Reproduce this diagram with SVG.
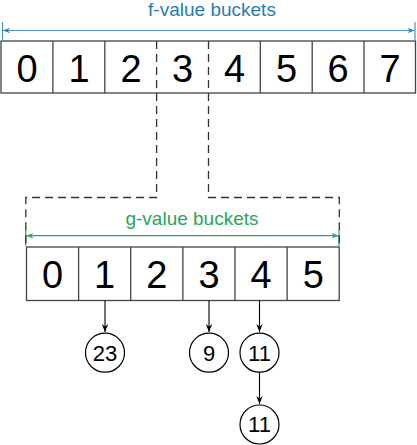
<svg xmlns="http://www.w3.org/2000/svg" width="417" height="445" viewBox="0 0 417 445">
<defs>
<marker id="ab" viewBox="0 0 10 10" refX="10" refY="5" markerWidth="7" markerHeight="7" markerUnits="userSpaceOnUse" orient="auto-start-reverse"><path d="M0,1 L10,5 L0,9 L3,5 Z" fill="#2f7fb6"/></marker>
<marker id="ag" viewBox="0 0 10 10" refX="10" refY="5" markerWidth="7" markerHeight="7" markerUnits="userSpaceOnUse" orient="auto-start-reverse"><path d="M0,1 L10,5 L0,9 L3,5 Z" fill="#2aa55a"/></marker>
<marker id="ak" viewBox="0 0 10 10" refX="10" refY="5" markerWidth="8" markerHeight="8" markerUnits="userSpaceOnUse" orient="auto"><path d="M0,1 L10,5 L0,9 L3,5 Z" fill="#000"/></marker>
</defs>
<style>
.cell{fill:#fff;stroke:#444;stroke-width:1.3}
.big{font-family:"Liberation Sans",Arial,sans-serif;font-size:38px;fill:#000;text-anchor:middle}
.lbl{font-family:"Liberation Sans",Arial,sans-serif;font-size:19px;text-anchor:middle}
.circ{fill:#fff;stroke:#000;stroke-width:1.2}
.ct{font-family:"Liberation Sans",Arial,sans-serif;font-size:22px;fill:#000;text-anchor:middle}
.dash{fill:none;stroke:#333;stroke-width:1.3;stroke-dasharray:8,5}
.arr{stroke:#000;stroke-width:1.1;fill:none}
</style>
<rect width="417" height="445" fill="#fff"/>
<g id="f-buckets">
<rect class="cell" x="1" y="41" width="414.5" height="52"/>
<line x1="52.9" y1="41" x2="52.9" y2="93" stroke="#444" stroke-width="1.3"/>
<line x1="104.8" y1="41" x2="104.8" y2="93" stroke="#444" stroke-width="1.3"/>
<line x1="260.3" y1="41" x2="260.3" y2="93" stroke="#444" stroke-width="1.3"/>
<line x1="312.2" y1="41" x2="312.2" y2="93" stroke="#444" stroke-width="1.3"/>
<line x1="364" y1="41" x2="364" y2="93" stroke="#444" stroke-width="1.3"/>
<line x1="156.6" y1="41" x2="156.6" y2="93" stroke="#333" stroke-width="1.3" stroke-dasharray="8,5"/>
<line x1="208.5" y1="41" x2="208.5" y2="93" stroke="#333" stroke-width="1.3" stroke-dasharray="8,5"/>
<text class="big" x="27" y="82">0</text>
<text class="big" x="79" y="82">1</text>
<text class="big" x="131" y="82">2</text>
<text class="big" x="182.5" y="82">3</text>
<text class="big" x="234.5" y="82">4</text>
<text class="big" x="286.5" y="82">5</text>
<text class="big" x="338" y="82">6</text>
<text class="big" x="390" y="82">7</text>
</g>
<g id="f-label">
<text class="lbl" x="212" y="16" fill="#2a7bb5">f-value buckets</text>
<line x1="2.5" y1="22" x2="2.5" y2="41" stroke="#4a90c0" stroke-width="1.2"/>
<line x1="415" y1="22" x2="415" y2="41" stroke="#4a90c0" stroke-width="1.2"/>
<line x1="3" y1="30.5" x2="414.5" y2="30.5" stroke="#4a90c0" stroke-width="1.2" marker-start="url(#ab)" marker-end="url(#ab)"/>
</g>
<g id="g-buckets">
<rect class="cell" x="26.5" y="247" width="312.7" height="53.5"/>
<line x1="78.6" y1="247" x2="78.6" y2="300.5" stroke="#444" stroke-width="1.3"/>
<line x1="130.7" y1="247" x2="130.7" y2="300.5" stroke="#444" stroke-width="1.3"/>
<line x1="182.9" y1="247" x2="182.9" y2="300.5" stroke="#444" stroke-width="1.3"/>
<line x1="235" y1="247" x2="235" y2="300.5" stroke="#444" stroke-width="1.3"/>
<line x1="287.1" y1="247" x2="287.1" y2="300.5" stroke="#444" stroke-width="1.3"/>
<text class="big" x="52.5" y="288">0</text>
<text class="big" x="104.6" y="288">1</text>
<text class="big" x="156.8" y="288">2</text>
<text class="big" x="209" y="288">3</text>
<text class="big" x="261" y="288">4</text>
<text class="big" x="313.2" y="288">5</text>
</g>
<g id="g-label">
<text class="lbl" x="192" y="225" fill="#2aa55a">g-value buckets</text>
<line x1="25.8" y1="230" x2="25.8" y2="246" stroke="#2aa55a" stroke-width="1.2"/>
<line x1="339" y1="230" x2="339" y2="246" stroke="#2aa55a" stroke-width="1.2"/>
<line x1="26.5" y1="235.7" x2="338.5" y2="235.7" stroke="#2aa55a" stroke-width="1.2" marker-start="url(#ag)" marker-end="url(#ag)"/>
</g>
<g id="zoom-outline">
<path class="dash" d="M156.6,93 V197.5 H25.8 V247"/>
<path class="dash" d="M208.5,93 V197.5 H339.3 V247"/>
</g>
<g id="n23"><circle class="circ" cx="105" cy="352.7" r="19.5"/><text class="ct" x="105" y="360.5">23</text></g>
<g id="n9"><circle class="circ" cx="209" cy="352.7" r="19.5"/><text class="ct" x="209" y="360.5">9</text></g>
<g id="n11a"><circle class="circ" cx="259.5" cy="352.7" r="19.5"/><text class="ct" x="259.5" y="360.5">11</text></g>
<g id="n11b"><circle class="circ" cx="259.5" cy="424.5" r="19.5"/><text class="ct" x="259.5" y="432.3">11</text></g>
<g id="connectors">
<line class="arr" x1="105" y1="300.5" x2="105" y2="332" marker-end="url(#ak)"/>
<line class="arr" x1="209" y1="300.5" x2="209" y2="332" marker-end="url(#ak)"/>
<line class="arr" x1="259.5" y1="300.5" x2="259.5" y2="332" marker-end="url(#ak)"/>
<line class="arr" x1="259.5" y1="372.2" x2="259.5" y2="404" marker-end="url(#ak)"/>
</g>
</svg>
